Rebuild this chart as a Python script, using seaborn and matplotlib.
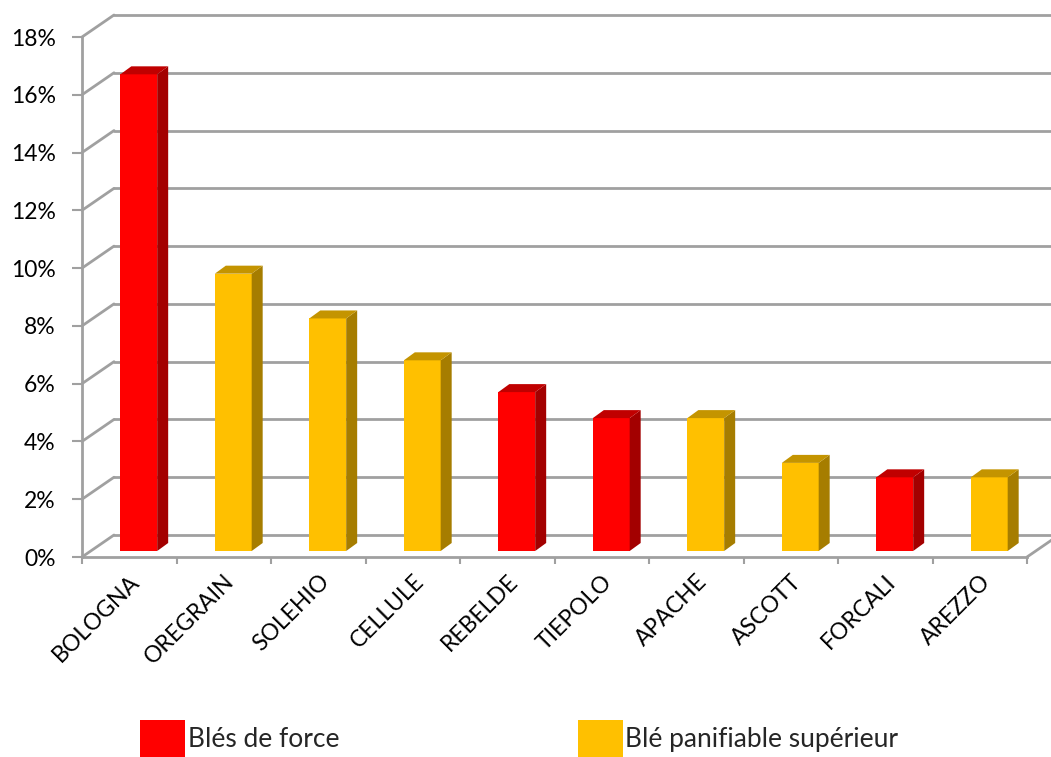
import numpy as np
import pandas as pd
import seaborn as sns
import matplotlib.pyplot as plt
from matplotlib.patches import Polygon, Patch
from matplotlib.ticker import FuncFormatter

# data
varietes = ["BOLOGNA", "OREGRAIN", "SOLEHIO", "CELLULE", "REBELDE",
            "TIEPOLO", "APACHE", "ASCOTT", "FORCALI", "AREZZO"]
parts = [16.5, 9.6, 8.05, 6.6, 5.5, 4.6, 4.6, 3.05, 2.55, 2.55]
groupes = ["Blés de force", "Blé panifiable supérieur", "Blé panifiable supérieur",
           "Blé panifiable supérieur", "Blés de force", "Blés de force",
           "Blé panifiable supérieur", "Blé panifiable supérieur",
           "Blés de force", "Blé panifiable supérieur"]
y_ticks = [0, 2, 4, 6, 8, 10, 12, 14, 16, 18]

couleurs = {"Blés de force": "#FF0000", "Blé panifiable supérieur": "#FFC000"}
cote = {"#FF0000": "#A30000", "#FFC000": "#A67D00"}
dessus = {"#FF0000": "#C00000", "#FFC000": "#C49400"}

df = pd.DataFrame({"variete": varietes, "part": parts, "groupe": groupes})

sns.set_theme(style="white")
plt.rcParams["font.family"] = ["Lato", "DejaVu Sans"]

W, H = 1051, 757
fig = plt.figure(figsize=(W / 100, H / 100), dpi=100)
ax = fig.add_axes([82 / W, (H - 557) / H, (1027 - 82) / W, (557 - 37) / H])

sns.barplot(data=df, x="variete", y="part", hue="groupe", palette=couleurs,
            dodge=False, width=0.39, saturation=1, ax=ax, legend=False, zorder=3)

ax.set_xlim(-0.5, len(varietes) - 0.5)
ax.set_ylim(0, 18)

# depth of the back wall in data units (32 px right, 22 px up)
px_x = (1027 - 82) / len(varietes)
px_y = (557 - 37) / 18
DX, DY = 32 / px_x, 22 / px_y
# bars sit at ~30% depth, each bar is 11 px x 8 px deep
BX, BY = 9.5 / px_x, 6 / px_y
SX, SY = 11 / px_x, 8 / px_y

grille = "#A0A0A0"
x0, x1 = -0.5, len(varietes) - 0.5
for v in y_ticks:
    ax.plot([x0 + DX, x1 + DX + 1], [v + DY, v + DY], color=grille, lw=2,
            zorder=1, clip_on=False)
    ax.plot([x0, x0 + DX], [v, v + DY], color=grille, lw=2, zorder=1, clip_on=False)
ax.plot([x1, x1 + DX], [0, DY], color=grille, lw=2, zorder=1, clip_on=False)

# turn the flat bars into 3D-looking boxes
for p in list(ax.patches):
    h = p.get_height()
    if not np.isfinite(h) or h <= 0:
        continue
    p.set_x(p.get_x() + BX)
    p.set_y(BY)
    fc = "#FF0000" if p.get_facecolor()[1] < 0.3 else "#FFC000"
    p.set_edgecolor("none")
    bx0, bx1 = p.get_x(), p.get_x() + p.get_width()
    by0, by1 = BY, BY + h
    ax.add_patch(Polygon([(bx1, by0), (bx1 + SX, by0 + SY), (bx1 + SX, by1 + SY), (bx1, by1)],
                         closed=True, fc=cote[fc], ec="none", zorder=3, clip_on=False))
    ax.add_patch(Polygon([(bx0, by1), (bx0 + SX, by1 + SY), (bx1 + SX, by1 + SY), (bx1, by1)],
                         closed=True, fc=dessus[fc], ec="none", zorder=3, clip_on=False))

for s in ["top", "right"]:
    ax.spines[s].set_visible(False)
for s in ["left", "bottom"]:
    ax.spines[s].set_color(grille)
    ax.spines[s].set_linewidth(2)
    ax.spines[s].set_zorder(2)

ax.set_yticks(y_ticks)
ax.yaxis.set_major_formatter(FuncFormatter(lambda v, _: f"{v:.0f}%"))
ax.tick_params(axis="y", left=True, length=7, width=1.5, color=grille,
               labelsize=16.5, pad=12, labelcolor="black")
ax.set_xticks(range(len(varietes)))
ax.set_xticks(np.arange(-0.5, len(varietes)), minor=True)
ax.tick_params(axis="x", which="major", length=0, labelsize=16.5, pad=10, labelcolor="black")
ax.tick_params(axis="x", which="minor", bottom=True, length=5, width=1.5, color=grille)
for lab in ax.get_xticklabels():
    lab.set_rotation(45)
    lab.set_ha("right")
    lab.set_rotation_mode("anchor")
ax.set_xlabel("")
ax.set_ylabel("")
ax.patch.set_alpha(0)

handles = [Patch(fc=couleurs[g], ec="none") for g in couleurs]
fig.legend(handles, list(couleurs), loc="lower left", bbox_to_anchor=(140 / W, 0.0),
           ncol=2, frameon=False, fontsize=19, handlelength=1.7, handleheight=1.8,
           handletextpad=0.1, columnspacing=9.05, borderpad=0, borderaxespad=0)

fig.savefig("out.png", dpi=100)
